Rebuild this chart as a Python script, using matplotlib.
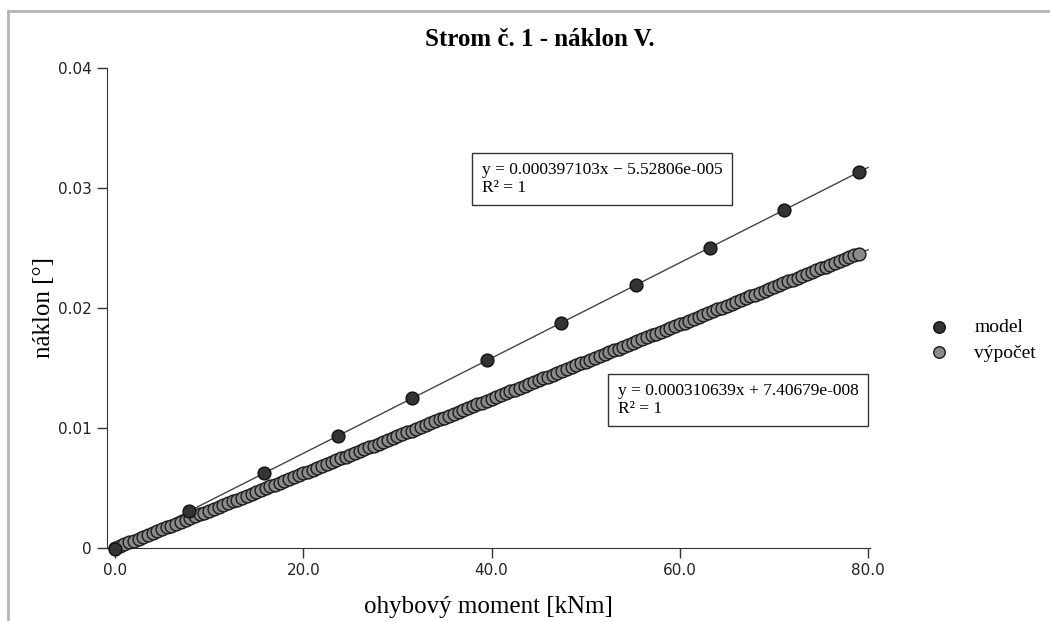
import matplotlib
matplotlib.use('Agg')
from matplotlib import pyplot as plt
from matplotlib.lines import Line2D

SERIF = 'Liberation Serif'

# model - computed every 7.9 kNm
moment_model = [0.0, 7.9, 15.8, 23.7, 31.6, 39.5, 47.4, 55.3, 63.2, 71.1, 79.0]
naklon_model = [-0.000055, 0.003082, 0.006219, 0.009356, 0.012493, 0.015630,
                0.018767, 0.021904, 0.025041, 0.028179, 0.031316]

# vypocet - moment in kNm, tilt in 1e-3 degrees
moment_calc = [
    0.0, 0.5, 1.0, 1.5, 2.0, 2.5, 3.0, 3.5, 4.0, 4.5, 5.0, 5.5, 6.0, 6.5,
    7.0, 7.5, 8.0, 8.5, 9.0, 9.5, 10.0, 10.5, 11.0, 11.5, 12.0, 12.5, 13.0,
    13.5, 14.0, 14.5, 15.0, 15.5, 16.0, 16.5, 17.0, 17.5, 18.0, 18.5, 19.0,
    19.5, 20.0, 20.5, 21.0, 21.5, 22.0, 22.5, 23.0, 23.5, 24.0, 24.5, 25.0,
    25.5, 26.0, 26.5, 27.0, 27.5, 28.0, 28.5, 29.0, 29.5, 30.0, 30.5, 31.0,
    31.5, 32.0, 32.5, 33.0, 33.5, 34.0, 34.5, 35.0, 35.5, 36.0, 36.5, 37.0,
    37.5, 38.0, 38.5, 39.0, 39.5, 40.0, 40.5, 41.0, 41.5, 42.0, 42.5, 43.0,
    43.5, 44.0, 44.5, 45.0, 45.5, 46.0, 46.5, 47.0, 47.5, 48.0, 48.5, 49.0,
    49.5, 50.0, 50.5, 51.0, 51.5, 52.0, 52.5, 53.0, 53.5, 54.0, 54.5, 55.0,
    55.5, 56.0, 56.5, 57.0, 57.5, 58.0, 58.5, 59.0, 59.5, 60.0, 60.5, 61.0,
    61.5, 62.0, 62.5, 63.0, 63.5, 64.0, 64.5, 65.0, 65.5, 66.0, 66.5, 67.0,
    67.5, 68.0, 68.5, 69.0, 69.5, 70.0, 70.5, 71.0, 71.5, 72.0, 72.5, 73.0,
    73.5, 74.0, 74.5, 75.0, 75.5, 76.0, 76.5, 77.0, 77.5, 78.0, 78.5, 79.0]
naklon_calc = [
    0.00, 0.16, 0.31, 0.47, 0.62, 0.78, 0.93, 1.09, 1.24, 1.40, 1.55, 1.71,
    1.86, 2.02, 2.17, 2.33, 2.49, 2.64, 2.80, 2.95, 3.11, 3.26, 3.42, 3.57,
    3.73, 3.88, 4.04, 4.19, 4.35, 4.50, 4.66, 4.81, 4.97, 5.13, 5.28, 5.44,
    5.59, 5.75, 5.90, 6.06, 6.21, 6.37, 6.52, 6.68, 6.83, 6.99, 7.14, 7.30,
    7.46, 7.61, 7.77, 7.92, 8.08, 8.23, 8.39, 8.54, 8.70, 8.85, 9.01, 9.16,
    9.32, 9.47, 9.63, 9.79, 9.94, 10.10, 10.25, 10.41, 10.56, 10.72, 10.87,
    11.03, 11.18, 11.34, 11.49, 11.65, 11.80, 11.96, 12.11, 12.27, 12.43,
    12.58, 12.74, 12.89, 13.05, 13.20, 13.36, 13.51, 13.67, 13.82, 13.98,
    14.13, 14.29, 14.44, 14.60, 14.76, 14.91, 15.07, 15.22, 15.38, 15.53,
    15.69, 15.84, 16.00, 16.15, 16.31, 16.46, 16.62, 16.77, 16.93, 17.09,
    17.24, 17.40, 17.55, 17.71, 17.86, 18.02, 18.17, 18.33, 18.48, 18.64,
    18.79, 18.95, 19.10, 19.26, 19.41, 19.57, 19.73, 19.88, 20.04, 20.19,
    20.35, 20.50, 20.66, 20.81, 20.97, 21.12, 21.28, 21.43, 21.59, 21.74,
    21.90, 22.06, 22.21, 22.37, 22.52, 22.68, 22.83, 22.99, 23.14, 23.30,
    23.45, 23.61, 23.76, 23.92, 24.07, 24.23, 24.39, 24.54]
naklon_calc = [v / 1000 for v in naklon_calc]

# linear trends (slope, intercept)
fit_model = (0.000397103, -5.52806e-005)
fit_calc = (0.000310639, 7.40679e-008)
fit_range = [0.0, 80.0]

x_ticks = [0, 20, 40, 60, 80]
x_ticklabels = ['0.0', '20.0', '40.0', '60.0', '80.0']
y_ticks = [0, 0.01, 0.02, 0.03, 0.04]
y_ticklabels = ['0', '0.01', '0.02', '0.03', '0.04']

fig = plt.figure(figsize=(10.5, 6.21), dpi=100)
ax = fig.add_axes([107 / 1050, 1 - 548 / 621, 763 / 1050, 480 / 621])

for slope, icpt in (fit_model, fit_calc):
    ax.plot(fit_range, [slope * x + icpt for x in fit_range],
            color='#444444', lw=1, zorder=2)

ax.scatter(moment_calc, naklon_calc, s=85, c='#8a8a8a', edgecolors='#1a1a1a',
           linewidths=1, zorder=3, clip_on=False, label='výpočet')
ax.scatter(moment_model, naklon_model, s=85, c='#333333', edgecolors='#111111',
           linewidths=1, zorder=4, clip_on=False, label='model')

ax.set_xlim(-0.85, 80.2)
ax.set_ylim(0, 0.04)
ax.set_xticks(x_ticks)
ax.set_xticklabels(x_ticklabels)
ax.set_yticks(y_ticks)
ax.set_yticklabels(y_ticklabels)
ax.tick_params(direction='out', length=7, width=1, color='#333333',
               labelsize=11, labelcolor='#222222', pad=4)
for side in ('top', 'right'):
    ax.spines[side].set_visible(False)
for side in ('left', 'bottom'):
    ax.spines[side].set_color('#333333')

ax.set_xlabel('ohybový moment [kNm]', family=SERIF, fontsize=18, labelpad=13)
ax.set_ylabel('náklon [°]', family=SERIF, fontsize=18, labelpad=2)
fig.text(540 / 1050, 1 - 39 / 621, 'Strom č. 1 - náklon V.', family=SERIF,
         weight='bold', fontsize=18, ha='center', va='center')

box = dict(boxstyle='square,pad=0.55', fc='white', ec='#333333', lw=1)
fig.text(482 / 1050, 1 - 179 / 621,
         'y = 0.000397103x − 5.52806e-005\nR² = 1', family=SERIF,
         fontsize=12.5, ha='left', va='center', linespacing=1.15, bbox=box)
fig.text(618 / 1050, 1 - 400 / 621,
         'y = 0.000310639x + 7.40679e-008\nR² = 1', family=SERIF,
         fontsize=12.5, ha='left', va='center', linespacing=1.15, bbox=box)

handles, labels = ax.get_legend_handles_labels()
fig.legend(handles[::-1], labels[::-1], loc='center left',
           bbox_to_anchor=(920 / 1050, 1 - 340 / 621), frameon=False,
           prop={'family': SERIF, 'size': 14}, handletextpad=0.8,
           labelspacing=0.4, scatterpoints=1, markerscale=0.9,
           borderaxespad=0, borderpad=0)

# light grey frame around the page
fig.add_artist(Line2D([8 / 1050, 8 / 1050], [0, 1 - 11 / 621],
                      color='#b4b4b4', lw=2))
fig.add_artist(Line2D([8 / 1050, 1], [1 - 11 / 621, 1 - 11 / 621],
                      color='#b4b4b4', lw=2))

plt.savefig('out.png', dpi=100)
